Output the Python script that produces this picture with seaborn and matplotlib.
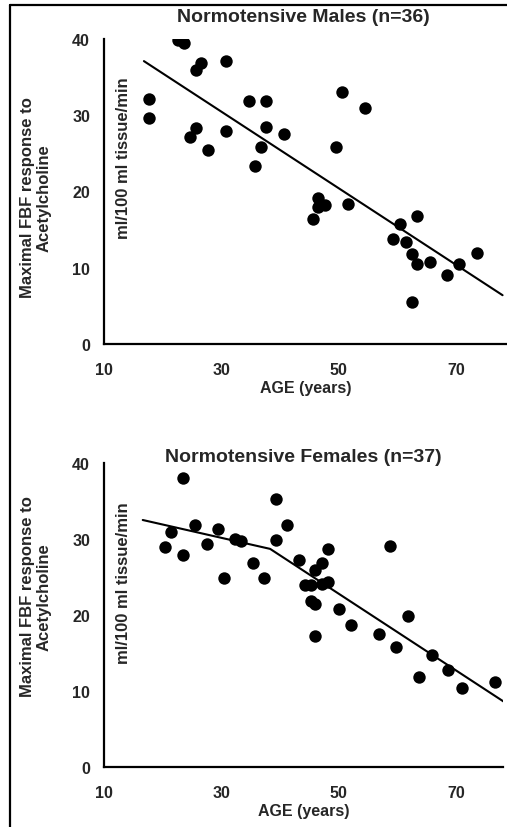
import matplotlib
matplotlib.use("Agg")
import matplotlib.pyplot as plt
import pandas as pd
import seaborn as sns
from matplotlib.lines import Line2D

# Normotensive males (n=36)
male_age = [17.7, 17.7, 22.6, 23.7, 24.7, 25.7, 25.7, 26.6, 27.7, 30.7, 30.7, 34.7,
            35.7, 36.7, 37.6, 37.6, 40.6, 45.6, 46.5, 46.5, 47.7, 49.5, 50.5, 51.5,
            54.4, 59.3, 60.5, 61.4, 62.4, 62.4, 63.4, 63.4, 65.5, 68.5, 70.4, 73.5]
male_fbf = [32.1, 29.6, 39.9, 39.5, 27.1, 28.3, 35.9, 36.9, 25.4, 37.1, 27.9, 31.9,
            23.4, 25.9, 31.9, 28.5, 27.6, 16.4, 19.2, 18.0, 18.2, 25.9, 33.0, 18.3,
            31.0, 13.8, 15.7, 13.4, 11.8, 5.5, 10.5, 16.8, 10.8, 9.0, 10.5, 12.0]
male_fit_age = [16.8, 77.9]
male_fit_fbf = [37.1, 6.4]

# Normotensive females (n=37)
female_age = [20.4, 21.4, 23.4, 23.4, 25.5, 27.5, 29.4, 30.5, 32.4, 33.4, 35.4, 37.3,
              39.3, 39.3, 41.2, 43.3, 44.2, 45.2, 45.2, 46.0, 46.0, 46.0, 47.2, 47.2,
              48.2, 48.2, 50.1, 52.0, 56.9, 58.8, 59.8, 61.8, 63.7, 65.8, 68.6, 71.0, 76.6]
female_fbf = [29.0, 30.9, 38.0, 27.9, 31.9, 29.3, 31.3, 24.9, 30.0, 29.7, 26.9, 24.9,
              35.3, 29.9, 31.9, 27.2, 24.0, 24.0, 21.9, 21.5, 17.3, 25.9, 26.9, 24.1,
              28.7, 24.4, 20.8, 18.7, 17.5, 29.1, 15.8, 19.9, 11.8, 14.8, 12.8, 10.4, 11.2]
female_fit_age = [16.6, 38.3, 78.3]
female_fit_fbf = [32.5, 28.7, 8.5]

x_ticks = [10, 30, 50, 70]
y_ticks = [0, 10, 20, 30, 40]

sns.set_style("white")
plt.rcParams["font.family"] = ["Liberation Sans", "DejaVu Sans"]
plt.rcParams["font.weight"] = "bold"

W, H = 507, 828
fig = plt.figure(figsize=(W / 100, H / 100), dpi=100)


def panel(rect, ages, fbf, fit_x, fit_y, xmax, title, title_y, unit_y):
    ax = fig.add_axes(rect)
    df = pd.DataFrame({"age": ages, "fbf": fbf})
    sns.scatterplot(data=df, x="age", y="fbf", ax=ax, color="black", s=80,
                    linewidth=0, zorder=3)
    sns.lineplot(x=fit_x, y=fit_y, ax=ax, color="black", linewidth=1.5,
                 sort=False, estimator=None, zorder=2)
    ax.set_xlim(10, xmax)
    ax.set_ylim(0, 40)
    ax.set_xticks(x_ticks)
    ax.set_yticks(y_ticks)
    ax.tick_params(axis="both", length=0, labelsize=11.5)
    ax.tick_params(axis="x", pad=13)
    ax.tick_params(axis="y", pad=10)
    for lab in ax.get_xticklabels() + ax.get_yticklabels():
        lab.set_fontweight("bold")
    sns.despine(ax=ax)
    for side in ("left", "bottom"):
        ax.spines[side].set_linewidth(1.6)
        ax.spines[side].set_color("black")
    ax.set_xlabel("AGE (years)", fontsize=11.5, fontweight="bold", labelpad=2)
    ax.set_ylabel("")
    fig.text(303 / W, 1 - title_y / H, title, ha="center", va="center",
             fontsize=14, fontweight="bold")
    fig.text(124 / W, 1 - unit_y / H, "ml/100 ml tissue/min", rotation=90,
             ha="center", va="center", fontsize=12, fontweight="bold")
    return ax


ax1 = panel([104 / W, 1 - 345 / H, 403 / W, 305 / H], male_age, male_fbf,
            male_fit_age, male_fit_fbf, 10 + 403 / 5.87,
            "Normotensive Males (n=36)", 18, 158)
ax2 = panel([104 / W, 1 - 768 / H, 399 / W, 304 / H], female_age, female_fbf,
            female_fit_age, female_fit_fbf, 10 + 399 / 5.87,
            "Normotensive Females (n=37)", 458, 583)

for yc in (198, 597):
    fig.text(36 / W, 1 - yc / H, "Maximal FBF response to\nAcetylcholine",
             rotation=90, ha="center", va="center", fontsize=12,
             fontweight="bold", multialignment="center", linespacing=1.15)

# outer frame (only top and left edges visible)
fig.add_artist(Line2D([10 / W, 10 / W], [0, 1 - 6 / H], transform=fig.transFigure,
                      color="black", linewidth=1.6))
fig.add_artist(Line2D([10 / W, 1], [1 - 6 / H, 1 - 6 / H], transform=fig.transFigure,
                      color="black", linewidth=1.6))

fig.savefig("out.png", dpi=100)
